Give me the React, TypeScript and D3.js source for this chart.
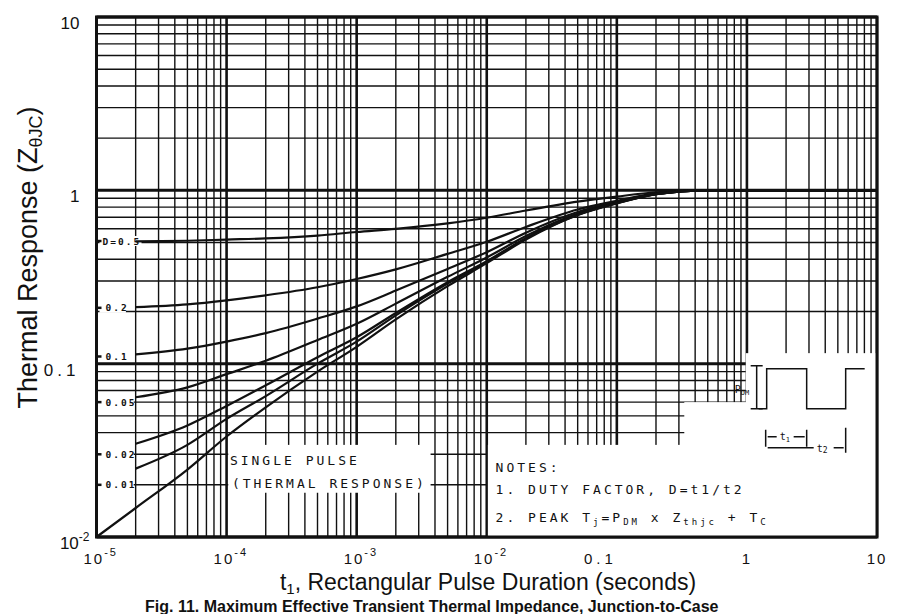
import React from 'react';
import * as d3 from 'd3';

const W = 898;
const H = 614;
const PLOT = { left: 96.5, right: 877, top: 17, bottom: 537 };

// pulse durations (s) where the duty-cycle curves were read
const T = [2e-5, 5e-5, 1e-4, 2e-4, 5e-4, 1e-3, 2e-3, 5e-3, 1e-2, 2e-2, 5e-2, 0.1, 0.2, 0.5, 1, 10];
const D_050 = [0.507, 0.512, 0.52, 0.528, 0.548, 0.575, 0.6, 0.645, 0.695, 0.765, 0.86, 0.92, 0.975, 1.0, 1.0, 1.0];
const D_020 = [0.212, 0.22, 0.232, 0.248, 0.276, 0.308, 0.35, 0.43, 0.505, 0.615, 0.775, 0.87, 0.96, 1.0, 1.0, 1.0];
const D_010 = [0.113, 0.122, 0.134, 0.15, 0.182, 0.214, 0.264, 0.352, 0.44, 0.57, 0.75, 0.856, 0.955, 1.0, 1.0, 1.0];
const D_005 = [0.064, 0.073, 0.087, 0.104, 0.137, 0.17, 0.222, 0.317, 0.41, 0.545, 0.735, 0.85, 0.955, 1.0, 1.0, 1.0];
const D_002 = [0.0345, 0.044, 0.057, 0.075, 0.109, 0.142, 0.196, 0.295, 0.39, 0.53, 0.725, 0.845, 0.95, 1.0, 1.0, 1.0];
const D_001 = [0.0248, 0.034, 0.048, 0.065, 0.1, 0.134, 0.19, 0.29, 0.385, 0.527, 0.722, 0.843, 0.95, 1.0, 1.0, 1.0];

// single pulse starts at the lower-left corner
const T_SINGLE = [1e-5, 2e-5, 5e-5, 1e-4, 2e-4, 5e-4, 1e-3, 2e-3, 5e-3, 1e-2, 2e-2, 5e-2, 0.1, 0.2, 0.5, 1, 10];
const SINGLE = [0.01, 0.0147, 0.0245, 0.038, 0.056, 0.09, 0.125, 0.18, 0.28, 0.38, 0.52, 0.72, 0.84, 0.95, 1.0, 1.0, 1.0];

const D_LABELS = ['D=0.5', '0.2', '0.1', '0.05', '0.02', '0.01'];
const D_LABEL_AT = [0.51, 0.21, 0.11, 0.06, 0.03, 0.02];
const D_SERIES = [D_050, D_020, D_010, D_005, D_002, D_001];

const X_TICKS = [1e-5, 1e-4, 1e-3, 1e-2, 0.1, 1, 10];
const X_TICK_BASE = ['10', '10', '10', '10', '0.1', '1', '10'];
const X_TICK_EXP = ['-5', '-4', '-3', '-2', '', '', ''];
const Y_TICKS = [10, 1, 0.1, 0.01];
const Y_TICK_BASE = ['10', '1', '0.1', '10'];
const Y_TICK_EXP = ['', '', '', '-2'];

const DECADES = [1e-5, 1e-4, 1e-3, 1e-2, 0.1, 1];
const Y_DECADES = [0.01, 0.1, 1];
const MULT = [1, 2, 3, 4, 5, 6, 7, 8, 9];

const INK = '#111';
const MONO = '"DejaVu Sans Mono", monospace';
const SANS = '"Liberation Sans", Arial, sans-serif';

export default function App() {
  const x = d3.scaleLog().domain([1e-5, 10]).range([PLOT.left, PLOT.right]);
  const y = d3.scaleLog().domain([0.01, 10]).range([PLOT.bottom, PLOT.top]);

  const xGrid = DECADES.flatMap(d => MULT.map(m => d * m)).concat([10]);
  const yGrid = Y_DECADES.flatMap(d => MULT.map(m => d * m)).concat([10]);

  const line = d3.line<[number, number]>()
    .x(d => x(d[0]))
    .y(d => y(d[1]))
    .curve(d3.curveMonotoneX);

  const isDecade = (v: number) => Math.abs(Math.log10(v) - Math.round(Math.log10(v))) < 1e-6;

  // white-backed annotation areas (graph paper is blanked there)
  const pulseBox = { x0: 1.03e-4, x1: 3.7e-3, y0: 0.034, y1: 0.018 };
  const notesBox = { x0: 1.02e-2, x1: 10, y0: 0.034, y1: 0.01 };
  const insetLow = { x0: 0.33, x1: 10, y0: 0.06, y1: 0.01 };
  const insetHigh = { x0: 0.98, x1: 10, y0: 0.115, y1: 0.01 };
  const box = (b: { x0: number; x1: number; y0: number; y1: number }, k: string) => (
    <rect key={k} x={x(b.x0)} y={y(b.y0)} width={x(b.x1) - x(b.x0)} height={y(b.y1) - y(b.y0)} fill="#fff" />
  );

  // inset pulse sketch origin
  const ix = x(1.05);
  const iy = y(0.1);

  return (
    <svg width={W} height={H} style={{ position: 'absolute', left: 0, top: 0, background: '#fff' }}>
      <rect width={W} height={H} fill="#fff" />

      {/* graph paper */}
      <g stroke={INK}>
        {xGrid.map((v, i) => (
          <line key={'vx' + i} x1={x(v)} x2={x(v)} y1={PLOT.top} y2={PLOT.bottom}
            strokeWidth={isDecade(v) ? 2.6 : 1.4} />
        ))}
        {yGrid.map((v, i) => (
          <line key={'hy' + i} x1={PLOT.left} x2={PLOT.right} y1={y(v)} y2={y(v)}
            strokeWidth={isDecade(v) ? 3 : 1.4} />
        ))}
      </g>

      {box(pulseBox, 'pb')}
      {box(notesBox, 'nb')}
      {box(insetLow, 'il')}
      {box(insetHigh, 'ih')}

      {/* duty factor labels */}
      {D_LABELS.map((lab, i) => {
        const yy = y(D_LABEL_AT[i]);
        const w = lab.length * 7.8 + 3;
        return (
          <g key={'dl' + i}>
            <rect x={PLOT.left + 3} y={yy - 5} width={w} height={10} fill="#fff" />
            <line x1={PLOT.left} x2={PLOT.left + 5} y1={yy} y2={yy} stroke={INK} strokeWidth={2.5} />
            <text x={PLOT.left + (i === 0 ? 6 : 9)} y={yy + 3.5} fontFamily={MONO} fontSize={9.5}
              letterSpacing={2} fontWeight="bold" fill={INK}>{lab}</text>
          </g>
        );
      })}

      {/* curves */}
      <g fill="none" stroke={INK} strokeWidth={2.2} strokeLinejoin="round">
        {D_SERIES.map((vals, i) => (
          <path key={'c' + i} d={line(T.map((t, j) => [t, vals[j]] as [number, number])) || ''} />
        ))}
        <path d={line(T_SINGLE.map((t, j) => [t, SINGLE[j]] as [number, number])) || ''} />
      </g>

      {/* frame */}
      <rect x={PLOT.left} y={PLOT.top} width={PLOT.right - PLOT.left} height={PLOT.bottom - PLOT.top}
        fill="none" stroke={INK} strokeWidth={3} />

      {/* annotations */}
      <g fontFamily={MONO} fontSize={13} letterSpacing={3} fill={INK}>
        <text x={x(1.06e-4)} y={465}>SINGLE PULSE</text>
        <text x={x(1.1e-4)} y={488}>(THERMAL RESPONSE)</text>
        <text x={x(1.17e-2)} y={472}>NOTES:</text>
        <text x={x(1.17e-2)} y={494}>1. DUTY FACTOR, D=t1/t2</text>
        <text x={x(1.17e-2)} y={522}>
          2. PEAK T<tspan fontSize={9} dy={3}>j</tspan>
          <tspan dy={-3}>=P</tspan><tspan fontSize={9} dy={3}>DM</tspan>
          <tspan dy={-3}> x Z</tspan><tspan fontSize={9} dy={3}>thjc</tspan>
          <tspan dy={-3}> + T</tspan><tspan fontSize={9} dy={3}>C</tspan>
        </text>
      </g>

      {/* inset: rectangular pulse train */}
      <g stroke={INK} strokeWidth={1.5} fill="none">
        <path d={`M${ix + 9},${iy + 45} H${ix + 17} V${iy + 5} H${ix + 57} V${iy + 45} H${ix + 96} V${iy + 5} H${ix + 115}`} />
        <path d={`M${ix + 1},${iy + 2} H${ix + 13} M${ix + 7},${iy + 2} V${iy + 45} M${ix + 1},${iy + 45} H${ix + 13}`} />
        <path d={`M${ix + 16},${iy + 66} V${iy + 83} M${ix + 57},${iy + 66} V${iy + 83} M${ix + 96},${iy + 64} V${iy + 89}`} />
        <path d={`M${ix + 18},${iy + 73} H${ix + 27} M${ix + 44},${iy + 73} H${ix + 55}`} />
        <path d={`M${ix + 18},${iy + 84} H${ix + 64} M${ix + 84},${iy + 84} H${ix + 94}`} />
      </g>
      <g fontFamily={MONO} fill={INK}>
        <text x={ix - 15} y={iy + 29} fontSize={10}>P<tspan fontSize={7} dy={2}>DM</tspan></text>
        <text x={ix + 30} y={iy + 76} fontSize={10}>t<tspan fontSize={7} dy={2}>1</tspan></text>
        <text x={ix + 67} y={iy + 88} fontSize={10}>t<tspan fontSize={8} dy={1}>2</tspan></text>
      </g>

      {/* tick labels */}
      <g fontFamily={SANS} fill={INK}>
        {Y_TICKS.map((v, i) => (
          <text key={'yt' + i} x={PLOT.left - (Y_TICK_EXP[i] ? 7 : 17)} y={y(v) + 12} fontSize={17}
            textAnchor="end" letterSpacing={Y_TICK_BASE[i] === '0.1' ? 4 : 0}>
            {Y_TICK_BASE[i]}
            {Y_TICK_EXP[i] && <tspan fontSize={12} dy={-8}>{Y_TICK_EXP[i]}</tspan>}
          </text>
        ))}
        {X_TICKS.map((v, i) => (
          <text key={'xt' + i} x={x(v) + (X_TICK_EXP[i] ? -13 : 0)} y={564} fontSize={15}
            textAnchor={X_TICK_EXP[i] ? 'start' : X_TICK_BASE[i] === '0.1' ? 'end' : 'middle'}
            letterSpacing={X_TICK_BASE[i] === '0.1' ? 4 : 2}>
            {X_TICK_BASE[i]}
            {X_TICK_EXP[i] && <tspan fontSize={11} dy={-8}>{X_TICK_EXP[i]}</tspan>}
          </text>
        ))}
      </g>

      {/* axis titles */}
      <text x={488} y={590} fontFamily={SANS} fontSize={23} textAnchor="middle" fill={INK}>
        t<tspan fontSize={15} dy={4}>1</tspan><tspan dy={-4}>, Rectangular Pulse Duration (seconds)</tspan>
      </text>
      <text transform={`translate(37,${(108 + 407) / 2}) rotate(-90)`} fontFamily={SANS} fontSize={27}
        textAnchor="middle" fill={INK}>
        Thermal Response (Z<tspan fontSize={18} dy={5}>θJC</tspan><tspan dy={-5}>)</tspan>
      </text>

      {/* figure caption at the page edge */}
      <text x={145} y={612} fontFamily={SANS} fontSize={16} fontWeight="bold" fill={INK}>
        Fig. 11. Maximum Effective Transient Thermal Impedance, Junction-to-Case
      </text>
    </svg>
  );
}
